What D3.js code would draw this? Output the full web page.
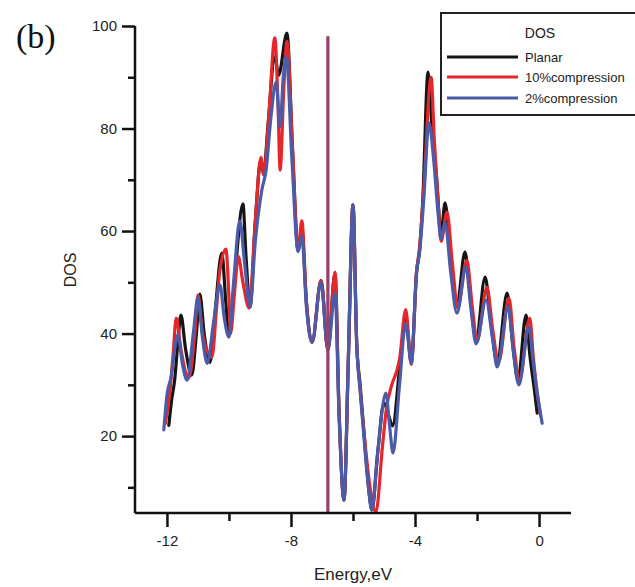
<!DOCTYPE html>
<html>
<head>
<meta charset="utf-8">
<script src="https://cdn.jsdelivr.net/npm/d3@7"></script>
<style>
  html, body { margin: 0; padding: 0; background: #fff; }
  svg { display: block; }
</style>
</head>
<body>
<svg id="chart" width="635" height="587"></svg>
<script>
// Density of states vs energy for three structures
const seriesNames = ["Planar", "10%compression", "2%compression"];
const seriesColors = ["#151515", "#e5262b", "#4c5ba8"];

const planarE = [-11.94,-11.85,-11.75,-11.65,-11.55,-11.4,-11.2,-11.05,-10.94,-10.8,-10.61,-10.45,-10.23,-10.1,-10.0,-9.8,-9.55,-9.45,-9.32,-9.15,-8.97,-8.88,-8.75,-8.52,-8.4,-8.13,-7.95,-7.77,-7.65,-7.5,-7.32,-7.03,-6.81,-6.58,-6.45,-6.29,-6.15,-6.0,-5.88,-5.77,-5.65,-5.5,-5.39,-5.2,-5.0,-4.85,-4.72,-4.5,-4.3,-4.12,-3.95,-3.85,-3.75,-3.58,-3.45,-3.3,-3.16,-3.03,-2.85,-2.65,-2.39,-2.2,-2.03,-1.74,-1.55,-1.35,-1.03,-0.85,-0.68,-0.42,-0.3,-0.15,-0.06];
const planarDOS = [22.1,27,31,38,43.6,37,31.9,40,47.7,40,34.4,44,55.7,46,39.5,52,65.3,55,45.2,62,74,71,80,94,90.4,98.6,76,56.3,60,46,38.3,50.4,36.8,51.8,25,7.5,35,65.1,38,30,21,10,5.6,17,26.5,24,22,33,43,34.5,52,56.5,66,91,80,70,59.5,65.5,54,45.2,55.9,46,38.7,51,42,34.4,47.9,38,30.9,43.6,36,29,24.5];

const comp10E = [-12.05,-11.9,-11.8,-11.7,-11.55,-11.3,-11.1,-11.0,-10.85,-10.55,-10.4,-10.3,-10.1,-10.0,-9.95,-9.82,-9.7,-9.55,-9.35,-9.15,-8.97,-8.88,-8.72,-8.52,-8.42,-8.35,-8.23,-8.13,-7.95,-7.77,-7.65,-7.5,-7.32,-7.03,-6.81,-6.58,-6.45,-6.29,-6.15,-6.0,-5.88,-5.77,-5.65,-5.45,-5.26,-5.05,-4.93,-4.75,-4.6,-4.5,-4.3,-4.12,-3.95,-3.85,-3.72,-3.48,-3.38,-3.25,-3.16,-2.97,-2.8,-2.62,-2.33,-2.15,-2.0,-1.68,-1.5,-1.3,-0.97,-0.8,-0.63,-0.3,-0.18,-0.05,0.05];
const comp10DOS = [22.5,29,36,43,37,31.3,40,47.5,40,35.4,45,52,56.5,47,40,48,55,50,45,62,74.4,71,82,97.7,85,71.9,88,97,76,56.3,62,46,38.3,50.4,36.8,52,25,7.5,35,65.1,38,29,21,10,5.2,18,25,30,32.5,35,44.7,34,52,57,68,90,78,65,58,63.7,54,45,54.3,45,38.5,49,41,34.5,46.9,37,31,43,35,28,24];

const comp2E = [-12.1,-12.0,-11.85,-11.75,-11.65,-11.5,-11.35,-11.15,-11.0,-10.85,-10.7,-10.5,-10.29,-10.15,-10.0,-9.85,-9.65,-9.5,-9.32,-9.15,-8.94,-8.8,-8.65,-8.48,-8.35,-8.25,-8.15,-7.97,-7.77,-7.65,-7.5,-7.32,-7.03,-6.81,-6.58,-6.45,-6.29,-6.15,-6.0,-5.88,-5.77,-5.65,-5.5,-5.39,-5.2,-4.94,-4.82,-4.71,-4.5,-4.3,-4.12,-3.95,-3.85,-3.72,-3.55,-3.4,-3.25,-3.16,-3.03,-2.85,-2.65,-2.36,-2.2,-2.03,-1.71,-1.5,-1.35,-1.0,-0.82,-0.65,-0.33,-0.2,-0.05,0.1];
const comp2DOS = [21.2,28,32,37,39.7,34,30.9,40,47,39,34.2,42,49.5,43,39.3,50,62,54,45.2,58,68,72,82,89,80.3,90,94,74,56,59,45,38.3,50,36.8,47.9,24,7.5,35,65.1,38,29,20,10,5.6,17,28.4,22,16.7,30,42,34.2,52,56,66,81.1,74,63,58.5,61.6,52,44,53,45,38,46.5,39,33.5,45.2,36,30,41.3,35,28,22.5];

// Fermi level marker, drawn as a vertical line
const fermiEnergy = -6.81;
const fermiTop = 98;

const xMajorTicks = [-12, -8, -4, 0];
const xMinorTicks = [-10, -6, -2];
const yMajorTicks = [20, 40, 60, 80, 100];
const yMinorTicks = [10, 30, 50, 70, 90];

const svg = d3.select("#chart");
const x = d3.scaleLinear().domain([-13.03, 1.03]).range([135, 571]);
const y = d3.scaleLinear().domain([5, 100]).range([513, 26]);

const fontSans = "'Liberation Sans', Arial, sans-serif";
// plain hyphen for negative tick labels
const intFmt = d => String(Math.round(d));

// curves
const line = d3.line().x(d => x(d[0])).y(d => y(d[1])).curve(d3.curveMonotoneX);
const series = [
  d3.zip(planarE, planarDOS),
  d3.zip(comp10E, comp10DOS),
  d3.zip(comp2E, comp2DOS)
];
series.forEach((pts, i) => {
  svg.append("path")
    .datum(pts)
    .attr("d", line)
    .attr("fill", "none")
    .attr("stroke", seriesColors[i])
    .attr("stroke-width", 3.2)
    .attr("stroke-linejoin", "round")
    .attr("stroke-linecap", "round");
});

// Fermi level
svg.append("line")
  .attr("x1", x(fermiEnergy)).attr("x2", x(fermiEnergy))
  .attr("y1", y(fermiTop)).attr("y2", y(5))
  .attr("stroke", seriesColors[1]).attr("stroke-width", 3);
svg.append("line")
  .attr("x1", x(fermiEnergy)).attr("x2", x(fermiEnergy))
  .attr("y1", y(fermiTop)).attr("y2", y(5))
  .attr("stroke", seriesColors[2]).attr("stroke-width", 3).attr("stroke-opacity", 0.55);

// axes
const xAxis = svg.append("g").attr("transform", `translate(0,${y(5)})`)
  .call(d3.axisBottom(x).tickValues(xMajorTicks).tickFormat(intFmt).tickSize(14).tickPadding(8));
const xMinor = svg.append("g").attr("transform", `translate(0,${y(5)})`)
  .call(d3.axisBottom(x).tickValues(xMinorTicks).tickFormat("").tickSize(8));
const yAxis = svg.append("g").attr("transform", `translate(${x(-13.03)},0)`)
  .call(d3.axisLeft(y).tickValues(yMajorTicks).tickFormat(intFmt).tickSize(13).tickPadding(5));
const yMinor = svg.append("g").attr("transform", `translate(${x(-13.03)},0)`)
  .call(d3.axisLeft(y).tickValues(yMinorTicks).tickFormat("").tickSize(7));

[xAxis, xMinor, yAxis, yMinor].forEach(g => {
  g.select(".domain").attr("stroke", "#111").attr("stroke-width", 2.5);
  g.selectAll(".tick line").attr("stroke", "#111").attr("stroke-width", 2.5);
  g.selectAll(".tick text").attr("fill", "#222").style("font-family", fontSans).style("font-size", "15px");
});
xMinor.select(".domain").remove();
yMinor.select(".domain").remove();
// keep the axis lines plain, without end caps
xAxis.select(".domain").attr("d", `M${x(-13.03)},0H${x(1.03)}`);
yAxis.select(".domain").attr("d", `M0,${y(100)}V${y(5)}`);

// axis titles
svg.append("text")
  .attr("x", 353).attr("y", 580)
  .attr("text-anchor", "middle")
  .style("font-family", fontSans).style("font-size", "17px").attr("fill", "#222")
  .text("Energy,eV");
svg.append("text")
  .attr("transform", "translate(76,270) rotate(-90)")
  .attr("text-anchor", "middle")
  .style("font-family", fontSans).style("font-size", "16px").attr("fill", "#222")
  .text("DOS");

// panel label
svg.append("text")
  .attr("x", 16).attr("y", 48)
  .style("font-family", "'Liberation Serif', 'Times New Roman', serif").style("font-size", "34px").attr("fill", "#111")
  .text("(b)");

// legend
const legend = svg.append("g");
legend.append("rect")
  .attr("x", 441).attr("y", 13).attr("width", 200).attr("height", 102)
  .attr("fill", "#fff").attr("stroke", "#222").attr("stroke-width", 2);
legend.append("text")
  .attr("x", 540).attr("y", 38).attr("text-anchor", "middle")
  .style("font-family", fontSans).style("font-size", "14px").attr("fill", "#222")
  .text("DOS");
const rowY = [57, 77, 98];
seriesNames.forEach((name, i) => {
  legend.append("line")
    .attr("x1", 447).attr("x2", 518).attr("y1", rowY[i]).attr("y2", rowY[i])
    .attr("stroke", seriesColors[i]).attr("stroke-width", 2.8);
  legend.append("text")
    .attr("x", 525).attr("y", rowY[i] + 4.5)
    .style("font-family", fontSans).style("font-size", "13px").attr("fill", "#222")
    .text(name);
});
</script>
</body>
</html>
